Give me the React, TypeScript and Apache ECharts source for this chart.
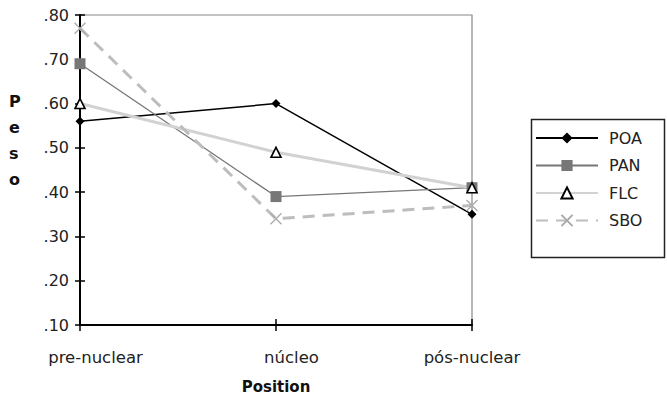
import React, { useEffect, useRef } from "react";
import * as echarts from "echarts";

const categories = ["pre-nuclear", "núcleo", "pós-nuclear"];
const poa = [0.56, 0.6, 0.35];
const pan = [0.69, 0.39, 0.41];
const flc = [0.6, 0.49, 0.41];
const sbo = [0.77, 0.34, 0.37];
const yTicks = [0.1, 0.2, 0.3, 0.4, 0.5, 0.6, 0.7, 0.8];

const FONT = "DejaVu Sans";

export default function App() {
  const ref = useRef<HTMLDivElement>(null);
  useEffect(() => {
    if (!ref.current) return;
    const chart = echarts.init(ref.current, undefined, { renderer: "svg" });
    const yMin = yTicks[0];
    const yMax = yTicks[yTicks.length - 1];
    chart.setOption({
      animation: false,
      backgroundColor: "#fff",
      textStyle: { fontFamily: FONT },
      grid: {
        left: 80,
        right: 195,
        top: 15,
        bottom: 71,
        containLabel: false,
        outerBoundsMode: "none",
        show: true,
        borderColor: "#888",
        borderWidth: 1.2,
      },
      xAxis: [
        {
          type: "category",
          data: categories,
          boundaryGap: false,
          name: "Position",
          nameLocation: "middle",
          nameGap: 54,
          nameTextStyle: { fontFamily: FONT, fontSize: 15, fontWeight: "bold", color: "#111" },
          axisLine: { lineStyle: { color: "#000", width: 2 } },
          axisTick: { show: true, length: 6, alignWithLabel: true, lineStyle: { color: "#000", width: 1.5 } },
          axisLabel: {
            margin: 24,
            fontFamily: FONT,
            fontSize: 16.5,
            color: "#222",
            formatter: (v: string, i: number) => (i < 2 ? "{s|" + v + "}" : v),
            rich: { s: { fontFamily: FONT, fontSize: 16.5, color: "#222", padding: [0, 0, 0, 31] } },
          },
          splitLine: { show: false },
        },
        {
          type: "category",
          data: categories,
          boundaryGap: false,
          position: "bottom",
          axisLine: { show: false },
          axisTick: { show: true, inside: true, length: 6, alignWithLabel: true, lineStyle: { color: "#000", width: 1.5 } },
          axisLabel: { show: false },
          splitLine: { show: false },
        },
      ],
      yAxis: [
        {
          type: "value",
          min: yMin,
          max: yMax,
          interval: 0.1,
          axisLine: { show: true, lineStyle: { color: "#000", width: 2 } },
          axisTick: { show: true, length: 5, lineStyle: { color: "#000", width: 1.5 } },
          axisLabel: {
            margin: 11,
            fontFamily: FONT,
            fontSize: 16,
            color: "#222",
            formatter: (v: number) => v.toFixed(2).replace(/^0/, ""),
          },
          splitLine: { show: false },
        },
        {
          type: "value",
          min: yMin,
          max: yMax,
          interval: 0.1,
          position: "left",
          axisLine: { show: false },
          axisTick: { show: true, inside: true, length: 5, lineStyle: { color: "#000", width: 1.5 } },
          axisLabel: { show: false },
          splitLine: { show: false },
        },
      ],
      legend: {
        orient: "vertical",
        left: 529,
        top: 117,
        padding: [13, 6, 6, 6],
        itemWidth: 62,
        itemHeight: 14,
        itemGap: 11.5,
        borderWidth: 0,
        textStyle: { fontFamily: FONT, fontSize: 16, color: "#222", padding: [0, 0, 0, 6] },
        data: ["POA", "PAN", "FLC", "SBO"],
      },
      graphic: [
        {
          type: "rect",
          left: 529,
          top: 117,
          shape: { width: 133, height: 138 },
          style: { fill: "none", stroke: "#222", lineWidth: 1.5 },
          silent: true,
        },
        {
          type: "text",
          left: 9,
          top: 88,
          style: {
            text: "P\ne\ns\no",
            fontFamily: FONT,
            fontSize: 16,
            fontWeight: "bold",
            fill: "#111",
            lineHeight: 26,
            align: "center",
          },
        },
      ],
      series: [
        {
          name: "POA",
          type: "line",
          data: poa,
          symbol: "diamond",
          symbolSize: 9,
          lineStyle: { color: "#000", width: 1.5 },
          itemStyle: { color: "#000" },
        },
        {
          name: "PAN",
          type: "line",
          data: pan,
          symbol: "rect",
          symbolSize: 11,
          lineStyle: { color: "#777", width: 1.3 },
          itemStyle: { color: "#777" },
        },
        {
          name: "FLC",
          type: "line",
          data: flc,
          symbol: "triangle",
          symbolSize: 10,
          lineStyle: { color: "#d2d2d2", width: 3 },
          itemStyle: { color: "#fff", borderColor: "#000", borderWidth: 1.6 },
        },
        {
          name: "SBO",
          type: "line",
          data: sbo,
          symbol: "path://M0,0L10,10M10,0L0,10",
          symbolSize: 11,
          lineStyle: { color: "#bdbdbd", width: 3, type: [12, 8] },
          itemStyle: { color: "rgba(0,0,0,0)", borderColor: "#aaa", borderWidth: 1.3 },
        },
      ],
    });
    return () => chart.dispose();
  }, []);
  return (
    <div
      ref={ref}
      style={{ position: "fixed", left: 0, top: 0, width: 667, height: 396, background: "#fff" }}
    />
  );
}
